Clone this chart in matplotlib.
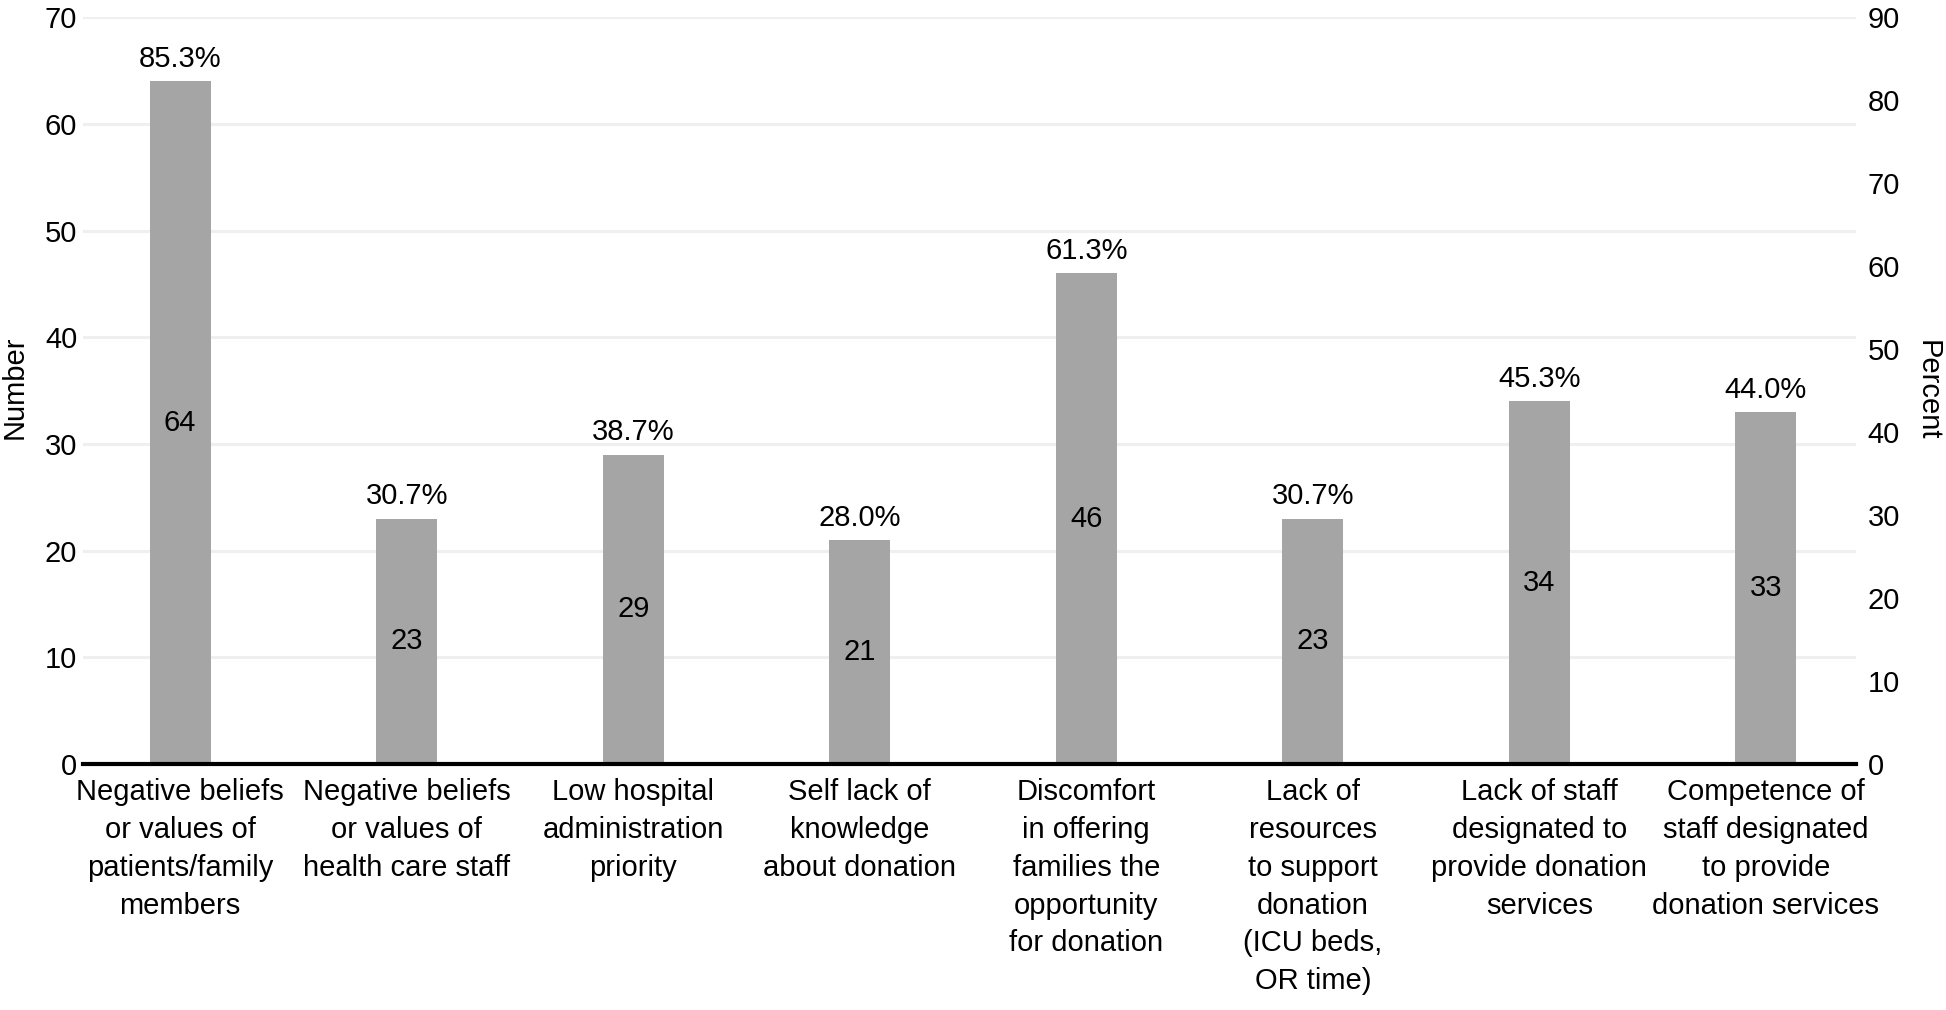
import numpy as np
import matplotlib.pyplot as plt

# Data
categories = [
    "Negative beliefs\nor values of\npatients/family\nmembers",
    "Negative beliefs\nor values of\nhealth care staff",
    "Low hospital\nadministration\npriority",
    "Self lack of\nknowledge\nabout donation",
    "Discomfort\nin offering\nfamilies the\nopportunity\nfor donation",
    "Lack of\nresources\nto support\ndonation\n(ICU beds,\nOR time)",
    "Lack of staff\ndesignated to\nprovide donation\nservices",
    "Competence of\nstaff designated\nto provide\ndonation services",
]
counts = [64, 23, 29, 21, 46, 23, 34, 33]
percents = [85.3, 30.7, 38.7, 28.0, 61.3, 30.7, 45.3, 44.0]
left_ticks = [0, 10, 20, 30, 40, 50, 60, 70]
right_ticks = [0, 10, 20, 30, 40, 50, 60, 70, 80, 90]

plt.rcParams["font.family"] = ["Liberation Sans", "DejaVu Sans"]
fs = 21

fig = plt.figure(figsize=(19.46, 10.10), dpi=100)
ax = fig.add_axes([0.0425, 0.2436, 0.9115, 0.7394])

x = np.arange(len(categories))
ax.bar(x, counts, width=0.27, color="#a5a5a5", zorder=3)

ax.set_ylim(0, 70)
ax.set_xlim(-0.43, 7.4)
ax.set_yticks(left_ticks)
ax.set_xticks(x)
ax.set_xticklabels(categories, fontsize=fs, linespacing=1.45)
ax.tick_params(axis="both", length=0, labelsize=fs)
ax.tick_params(axis="x", pad=10)
ax.tick_params(axis="y", pad=4)
ax.yaxis.grid(True, color="#efefef", lw=2.2, zorder=0)
ax.set_axisbelow(True)
for s in ["top", "right", "left"]:
    ax.spines[s].set_visible(False)
ax.spines["bottom"].set_linewidth(3)
ax.spines["bottom"].set_zorder(4)
ax.set_ylabel("Number", fontsize=fs)
ax.yaxis.set_label_coords(0.0145, 0.5, transform=fig.transFigure)
ax.yaxis.label.set_y(0.617)

for xi, c, p in zip(x, counts, percents):
    ax.text(xi, c / 2, str(c), ha="center", va="center", fontsize=fs, zorder=5)
    ax.annotate(f"{p:.1f}%", (xi, c), xytext=(0, 6), textcoords="offset points",
                ha="center", va="bottom", fontsize=fs, zorder=5)

ax2 = ax.twinx()
ax2.set_ylim(0, 90)
ax2.set_yticks(right_ticks)
ax2.tick_params(axis="y", length=0, labelsize=fs, pad=8)
for s in ["top", "right", "left", "bottom"]:
    ax2.spines[s].set_visible(False)
ax2.set_ylabel("Percent", fontsize=fs, rotation=270, labelpad=30)

fig.savefig("out.png", dpi=100)
